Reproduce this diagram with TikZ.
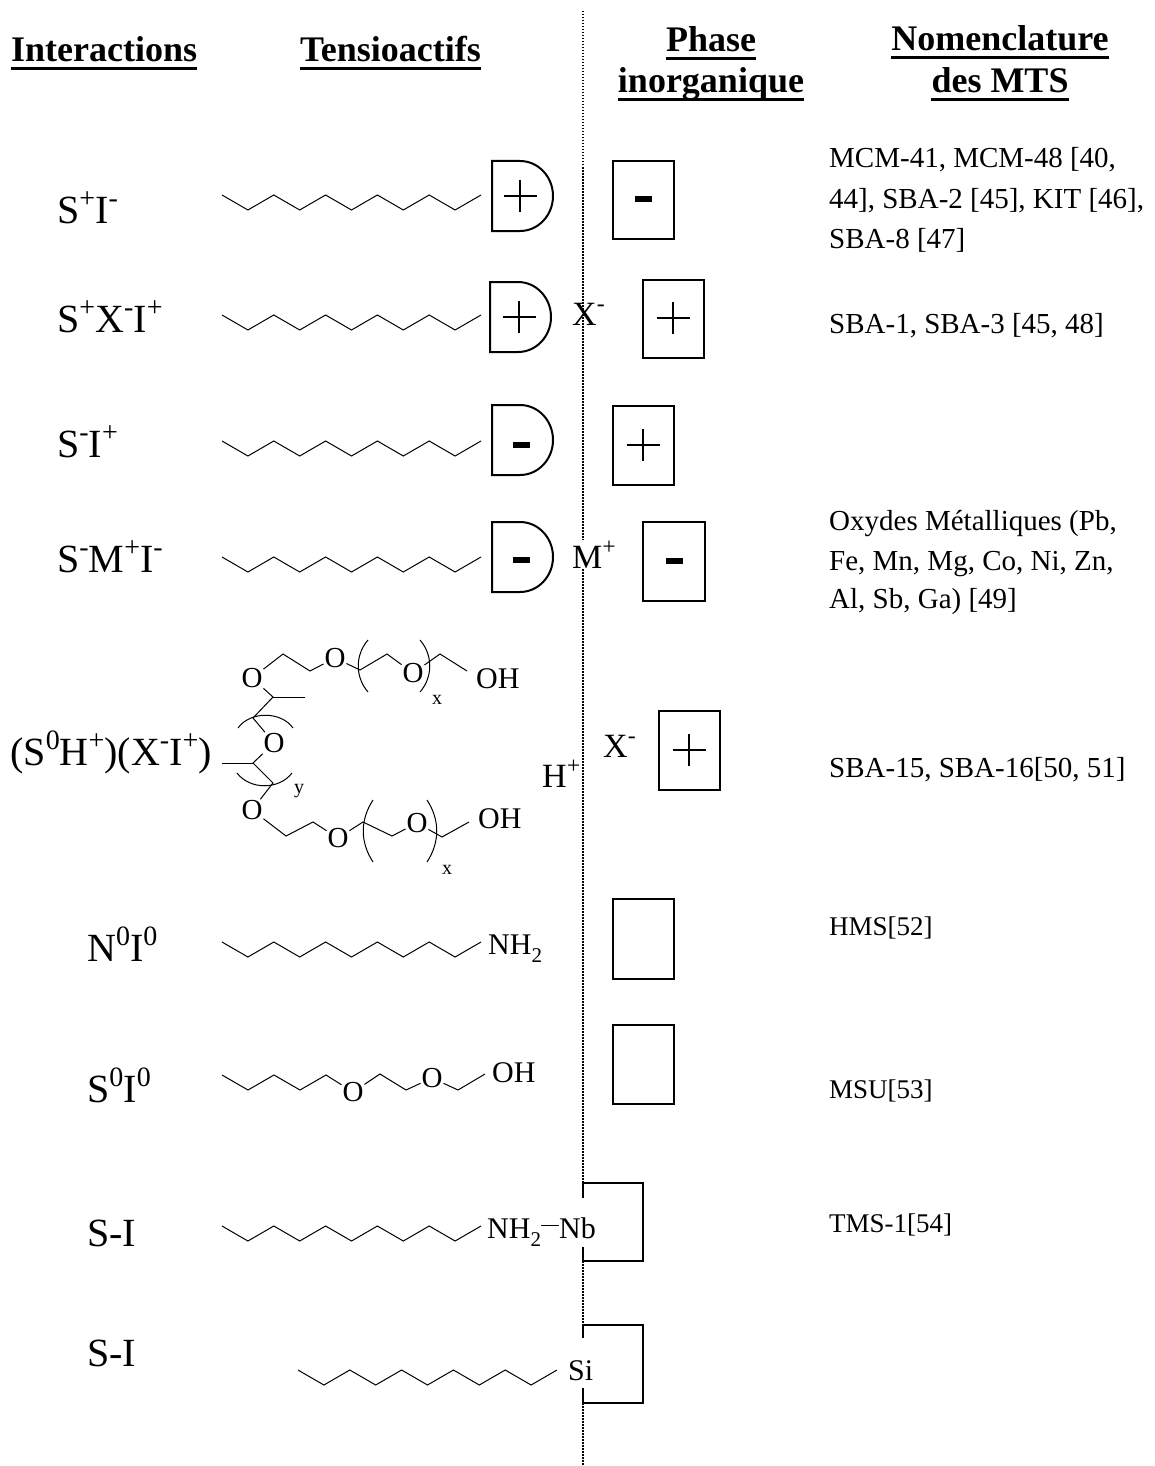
\documentclass[tikz,border=0pt]{standalone}
\usepackage{fontspec}
\setmainfont{Liberation Serif}
\newcommand\up[1]{\raisebox{.4em}{\scalebox{.7}{#1}}}
\newcommand\dn[1]{\raisebox{-.28em}{\scalebox{.7}{#1}}}
\newcommand\chain[2]{\draw[bond] (#1,#2) \foreach \i in {1,...,5}{ -- ++(25.9,15) -- ++(25.9,-15)};}
\newcommand\Dhead[2]{\draw[boxline] (#1,#2) -- ++(28,0) arc[start angle=-90,end angle=90,x radius=33,y radius=35] -- ++(-28,0) -- cycle;}
\newcommand\plusmark[2]{\draw[signline] (#1-16.5,#2) -- (#1+16.5,#2) (#1,#2-16) -- (#1,#2+16);}
\newcommand\minusmark[2]{\fill (#1-8.5,#2-3) rectangle (#1+8.5,#2+3);}
\tikzset{
  bond/.style={line width=1pt, line join=miter},
  boxline/.style={line width=2pt},
  signline/.style={line width=2.2pt},
  dotline/.style={line width=1.5pt, dash pattern=on 1.5pt off 1.5pt},
  uline/.style={line width=3pt},
  title/.style={inner sep=0pt, anchor=base west, font=\fontsize{36}{40}\selectfont\bfseries},
  lbl/.style={inner sep=0pt, anchor=base west, font=\fontsize{40}{48}\selectfont},
  ion/.style={inner sep=0pt, anchor=base west, font=\fontsize{34}{40}\selectfont},
  ref/.style={inner sep=0pt, anchor=base west, font=\fontsize{29}{34}\selectfont},
  refs/.style={ref, font=\fontsize{27}{32}\selectfont},
  atom/.style={inner sep=0.8pt, font=\fontsize{29}{30}\selectfont},
  grp/.style={inner sep=0pt, anchor=base west, font=\fontsize{30}{32}\selectfont},
  idx/.style={inner sep=0pt, font=\fontsize{20}{22}\selectfont},
}
\begin{document}
\begin{tikzpicture}[x=1pt,y=-1pt]
\fill[white] (0,0) rectangle (1155,1466);
\useasboundingbox (0,0) rectangle (1155,1466);

% titles
\node[title] (tInt) at (11,62) {Interactions};
\node[title] (tTen) at (300,62) {Tensioactifs};
\node[title,anchor=base] (tPh1) at (711,52) {Phase};
\node[title,anchor=base] (tPh2) at (711,93) {inorganique};
\node[title,anchor=base] (tNo1) at (1000,51) {Nomenclature};
\node[title,anchor=base] (tNo2) at (1000,93) {des MTS};
\foreach \t in {tInt,tTen,tPh1,tPh2,tNo1,tNo2}
  \draw[uline] ([yshift=-7pt]\t.base west) -- ([yshift=-7pt]\t.base east);

% dotted separator
\coordinate (d0) at (583,11);
\coordinate (d1) at (583,1183);
\coordinate (d2) at (583,1261);
\coordinate (d3) at (583,1325);
\coordinate (d4) at (583,1403);
\coordinate (d5) at (583,1466);
\draw[dotline] (d0) -- (d1) (d2) -- (d3) (d4) -- (d5);

% interaction labels
\node[lbl] (l1) at (57,223) {S\up{+}I\up{-}};
\node[lbl] (l2) at (57,332) {S\up{+}X\up{-}I\up{+}};
\node[lbl] (l3) at (57,457) {S\up{-}I\up{+}};
\node[lbl] (l4) at (57,572) {S\up{-}M\up{+}I\up{-}};
\node[lbl] (l5) at (10,765) {(S\up{0}H\up{+})(X\up{-}I\up{+})};
\node[lbl] (l6) at (87,961) {N\up{0}I\up{0}};
\node[lbl] (l7) at (87,1102) {S\up{0}I\up{0}};
\node[lbl] (l8) at (87,1246) {S-I};
\node[lbl] (l9) at (87,1366) {S-I};

% row 1
\chain{222}{195}
\Dhead{492}{161}
\plusmark{520}{196}
\draw[boxline] (613,161) rectangle (674,239);
\minusmark{643}{199}
% row 2
\chain{222}{315}
\Dhead{490}{282}
\plusmark{519}{317}
\node[ion] (x2) at (572,325) {X\up{-}};
\draw[boxline] (643,280) rectangle (704,358);
\plusmark{673}{318}
% row 3
\chain{222}{441}
\Dhead{492}{405}
\minusmark{521}{445}
\draw[boxline] (613,406) rectangle (674,485);
\plusmark{643}{445}
% row 4
\chain{222}{557}
\Dhead{492}{522}
\minusmark{521}{560}
\node[ion,fill=white,inner sep=1pt] (m4) at (571,568) {M\up{+}};
\draw[boxline] (643,522) rectangle (705,601);
\minusmark{674}{561}

% row 5 : PEO-PPO-PEO
\node[atom] (po1) at (252,678) {O};
\node[atom] (po2) at (335,658) {O};
\node[atom] (po3) at (413,673) {O};
\node[grp] (oh1) at (476,688) {OH};
\node[atom] (pom) at (274,743) {O};
\node[atom] (po4) at (252,810) {O};
\node[atom] (po5) at (338,838) {O};
\node[atom] (po6) at (417,823) {O};
\node[grp] (oh2) at (478,828) {OH};
\node[idx] (ix1) at (437,700) {x};
\node[idx] (ix2) at (447,870) {x};
\node[idx] (iy) at (299,791) {y};
\coordinate (g) at (273,697);
\coordinate (h) at (253,718);
\coordinate (i) at (253,763);
\coordinate (j) at (273,783);
\draw[bond] (po1) -- (283,654) -- (310,671) -- (po2) -- (360,670) -- (387,654) -- (po3) -- (440,654) -- (467,671);
\draw[bond] (po1) -- (g) -- (h) -- (pom) -- (i) -- (j) -- (po4);
\draw[bond] (g) -- (305,697);
\draw[bond] (i) -- (222,763);
\draw[bond] (po4) -- (286,836) -- (313,822) -- (po5) -- (363,822) -- (392,836) -- (po6) -- (442,837) -- (469,822);
\draw[bond] (238,728) .. controls (250,711) and (281,711) .. (293,728);
\draw[bond] (237,773) .. controls (250,790) and (279,790) .. (292,773);
\draw[bond] (368,640) .. controls (355,655) and (355,677) .. (368,692);
\draw[bond] (420,640) .. controls (433,655) and (433,677) .. (420,692);
\draw[bond] (373,800) .. controls (360,820) and (360,842) .. (373,862);
\draw[bond] (427,800) .. controls (440,820) and (440,842) .. (427,862);
\node[ion] (h5) at (542,787) {H\up{+}};
\node[ion] (x5) at (603,757) {X\up{-}};
\draw[boxline] (659,711) rectangle (720,790);
\plusmark{689}{750}

% row 6
\chain{222}{942}
\node[grp] (nh6) at (488,954) {NH\dn{2}};
\draw[boxline] (613,899) rectangle (674,979);

% row 7
\node[atom] (so1) at (353,1092) {O};
\node[atom] (so2) at (432,1078) {O};
\node[grp] (oh7) at (492,1082) {OH};
\draw[bond] (222,1075) -- (248,1090) -- (274,1075) -- (300,1090) -- (326,1075) -- (so1) -- (380,1074) -- (406,1090) -- (so2) -- (458,1090) -- (485,1074);
\draw[boxline] (613,1025) rectangle (674,1104);

% row 8
\chain{222}{1226}
\node[grp] (nh8) at (487,1238) {NH\dn{2}};
\node[grp] (nb8) at (559,1238) {Nb};
\draw[bond] (nh8.east |- 0,1225) -- (nb8.west |- 0,1225);
\draw[boxline] (583,1198) -- (583,1183) -- (643,1183) -- (643,1261) -- (583,1261) -- (583,1247);

% row 9
\chain{298}{1370}
\node[grp] (si9) at (568,1380) {Si};
\draw[boxline] (583,1338) -- (583,1325) -- (643,1325) -- (643,1403) -- (583,1403) -- (583,1388);

% nomenclature
\node[ref] (r1a) at (829,168) {MCM-41, MCM-48 [40,};
\node[ref] (r1b) at (829,208) {44], SBA-2 [45], KIT [46],};
\node[ref] (r1c) at (829,248) {SBA-8 [47]};
\node[ref] (r2) at (829,333) {SBA-1, SBA-3 [45, 48]};
\node[ref] (r4a) at (829,530) {Oxydes Métalliques (Pb,};
\node[ref] (r4b) at (829,570) {Fe, Mn, Mg, Co, Ni, Zn,};
\node[ref] (r4c) at (829,608) {Al, Sb, Ga) [49]};
\node[ref] (r5) at (829,777) {SBA-15, SBA-16[50, 51]};
\node[refs] (r6) at (829,935) {HMS[52]};
\node[refs] (r7) at (829,1098) {MSU[53]};
\node[refs] (r8) at (829,1232) {TMS-1[54]};
\end{tikzpicture}
\end{document}
